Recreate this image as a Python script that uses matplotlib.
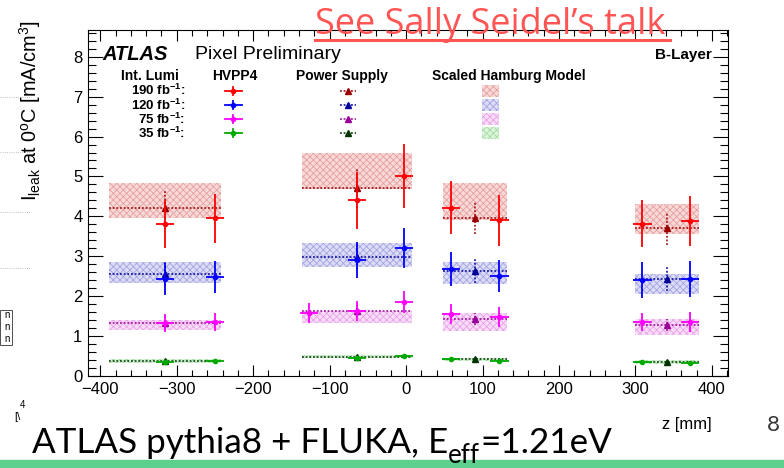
import numpy as np
import matplotlib
matplotlib.use("Agg")
import matplotlib.pyplot as plt
from matplotlib.patches import Rectangle
from matplotlib.lines import Line2D

plt.rcParams['font.family'] = ['Liberation Sans', 'DejaVu Sans']
plt.rcParams['mathtext.fontset'] = 'custom'
plt.rcParams['mathtext.rm'] = 'Liberation Sans'
plt.rcParams['mathtext.it'] = 'Liberation Sans:italic'
plt.rcParams['mathtext.bf'] = 'Liberation Sans:bold'
plt.rcParams['hatch.linewidth'] = 0.6

nan = np.nan

# HVPP4 measurements (z in mm, I_leak in mA/cm3)
hv_z = [-315, -250, -127, -64, -3, 59, 122, 309, 371]
hv_190 = [3.80, 3.95, nan, 4.40, 5.02, 4.22, 3.90, 3.82, 3.88]
hv_190_err = [0.60, 0.62, nan, 0.72, 0.80, 0.67, 0.63, 0.60, 0.63]
hv_120 = [2.43, 2.48, nan, 2.90, 3.20, 2.68, 2.50, 2.40, 2.43]
hv_120_err = [0.40, 0.40, nan, 0.45, 0.50, 0.43, 0.40, 0.45, 0.45]
hv_75 = [1.33, 1.35, 1.58, 1.62, 1.85, 1.55, 1.48, 1.35, 1.35]
hv_75_err = [0.22, 0.22, 0.25, 0.25, 0.28, 0.25, 0.25, 0.23, 0.25]
hv_35 = [0.35, 0.37, nan, 0.45, 0.50, 0.43, 0.38, 0.36, 0.32]
hv_35_err = [0.03, 0.03, nan, 0.03, 0.03, 0.03, 0.03, 0.03, 0.03]
hv_zerr = 12

# Power supply measurements, one per group of modules
ps_z = [-315, -64, 90, 341]
ps_zerr = [73, 72, 42, 42]
ps_190 = [4.20, 4.70, 3.97, 3.70]
ps_190_err = [0.45, 0.50, 0.40, 0.42]
ps_120 = [2.56, 2.98, 2.64, 2.42]
ps_120_err = [0.30, 0.30, 0.30, 0.30]
ps_75 = [1.33, 1.62, 1.42, 1.27]
ps_75_err = [0.15, 0.15, 0.15, 0.15]
ps_35 = [0.37, 0.48, 0.42, 0.35]
ps_35_err = [0.03, 0.03, 0.03, 0.03]

# Scaled Hamburg model bands (low / high)
ham_190_lo = [3.96, 4.68, 3.92, 3.55]
ham_190_hi = [4.83, 5.60, 4.83, 4.32]
ham_120_lo = [2.32, 2.73, 2.30, 2.05]
ham_120_hi = [2.85, 3.33, 2.85, 2.55]
ham_75_lo = [1.15, 1.33, 1.13, 1.02]
ham_75_hi = [1.40, 1.63, 1.58, 1.42]
ham_35_lo = [0.33, 0.44, 0.38, 0.31]
ham_35_hi = [0.42, 0.53, 0.46, 0.39]

lumi_labels = [r'190 fb$^{\mathbf{-1}}$:', r'120 fb$^{\mathbf{-1}}$:',
               r'75 fb$^{\mathbf{-1}}$:', r'35 fb$^{\mathbf{-1}}$:']

series = [
    (hv_190, hv_190_err, ps_190, ps_190_err, ham_190_lo, ham_190_hi,
     '#ff0000', '#990000', '#f9d8d8', '#e6a0a0'),
    (hv_120, hv_120_err, ps_120, ps_120_err, ham_120_lo, ham_120_hi,
     '#0000ff', '#000099', '#dcdcf6', '#a4a4e4'),
    (hv_75, hv_75_err, ps_75, ps_75_err, ham_75_lo, ham_75_hi,
     '#ff00ff', '#990099', '#fadcfa', '#e4a4e4'),
    (hv_35, hv_35_err, ps_35, ps_35_err, ham_35_lo, ham_35_hi,
     '#00aa00', '#003300', '#dcf4dc', '#a4dca4'),
]

fig = plt.figure(figsize=(7.84, 4.68), dpi=100)
ax = fig.add_axes([88 / 784, 92 / 468, 640 / 784, 346 / 468])

for hv, hv_err, ps, ps_err, lo, hi, col, pcol, fcol, hcol in series:
    # model bands
    for z, dz, l, h in zip(ps_z, ps_zerr, lo, hi):
        ax.add_patch(Rectangle((z - dz, l), 2 * dz, h - l, facecolor=fcol,
                               edgecolor=hcol, hatch='xxxxx', lw=0, zorder=1))
    # power supply
    eb = ax.errorbar(ps_z, ps, yerr=ps_err, xerr=ps_zerr, fmt='^', color=pcol,
                     ms=4.5, elinewidth=1.1, capsize=0, zorder=3)
    for lc in eb[2]:
        lc.set_linestyle((0, (1.2, 1.2)))
    # HVPP4
    ax.errorbar(hv_z, hv, yerr=hv_err, xerr=hv_zerr, fmt='o', color=col,
                ms=3, elinewidth=1.3, capsize=0, zorder=4)

ax.set_xlim(-416, 421)
ax.set_ylim(0, 8.67)
ax.set_xticks(np.arange(-400, 401, 100))
ax.set_xticks(np.arange(-400, 421, 20), minor=True)
ax.set_yticks(np.arange(0, 9, 1))
ax.set_yticks(np.arange(0, 8.67, 0.2), minor=True)
ax.set_xticklabels(['\u2212400', '\u2212300', '\u2212200', '\u2212100', '0',
                    '100', '200', '300', '400'])
ax.tick_params(which='both', direction='in', top=True, right=True,
               labelsize=12, width=0.8)
ax.tick_params(axis='x', which='major', length=8, pad=4)
ax.tick_params(axis='x', which='minor', length=4)
ax.tick_params(axis='y', which='major', length=11, pad=4)
ax.tick_params(axis='y', which='minor', length=5.5)
for s in ax.spines.values():
    s.set_linewidth(0.8)

fig.text(30 / 784, 1 - 20 / 468,
         r'I$_{\rm leak}$ at 0$^{\rm o}$C [mA/cm$^{3}$]',
         rotation=90, ha='center', va='top', fontsize=14.3)
fig.text(712 / 784, 1 - 425 / 468, 'z [mm]', ha='right', va='center',
         fontsize=12)

# plot header
ax.text(0.023, 0.928, 'ATLAS', transform=ax.transAxes, fontsize=14.5,
        weight='bold', style='italic', va='center')
ax.text(0.167, 0.928, 'Pixel Preliminary', transform=ax.transAxes,
        fontsize=14, va='center')
ax.text(0.975, 0.928, 'B-Layer', transform=ax.transAxes, fontsize=11,
        weight='bold', ha='right', va='center')

# legend table
hy = 0.867
for x, t in [(0.097, 'Int. Lumi'), (0.23, 'HVPP4'), (0.397, 'Power Supply'),
             (0.658, 'Scaled Hamburg Model')]:
    ax.text(x, hy, t, transform=ax.transAxes, fontsize=10, weight='bold',
            ha='center', va='center')
row_y = [0.824, 0.783, 0.743, 0.702]
for y, lab, s in zip(row_y, lumi_labels, series):
    col, pcol, fcol, hcol = s[6:]
    ax.text(0.152, y, lab, transform=ax.transAxes, fontsize=9.5,
            weight='bold', ha='right', va='center')
    ax.plot([0.214, 0.240], [y, y], color=col, lw=1.3,
            transform=ax.transAxes)
    ax.plot([0.227, 0.227], [y - 0.012, y + 0.012], color=col, lw=1.3,
            transform=ax.transAxes)
    ax.plot([0.227], [y], 'o', color=col, ms=3, transform=ax.transAxes)
    ax.plot([0.393, 0.419], [y, y], color=pcol, lw=1.1, ls=(0, (1.2, 1.2)),
            transform=ax.transAxes)
    ax.plot([0.406], [y], '^', color=pcol, ms=4.5, transform=ax.transAxes)
    ax.add_patch(Rectangle((0.616, y - 0.018), 0.026, 0.036,
                           transform=ax.transAxes, facecolor=fcol,
                           edgecolor=hcol, hatch='xxxxx', lw=0))

# slide decorations
fig.add_artist(Rectangle((0, 0), 1, 8 / 468, transform=fig.transFigure,
                         color='#5dd08e', zorder=0))
fig.text(773 / 784, 1 - 425 / 468, '8', ha='center', va='center',
         fontsize=16, color='#333333', family='Lato')

fig.canvas.draw()
r = fig.canvas.get_renderer()

# bottom caption, scaled to span 32 -> 612 px
size = 24
base = 1 - 453 / 468
t1 = fig.text(32 / 784, base, 'ATLAS pythia8 + FLUKA, E', fontsize=size,
              family='Lato', va='baseline')
t2 = fig.text(0, 1 - 463 / 468, 'eff', fontsize=size * 0.74, family='Lato',
              va='baseline')
t3 = fig.text(0, base, '=1.21eV', fontsize=size, family='Lato',
              va='baseline')
w = sum(t.get_window_extent(r).width for t in (t1, t2, t3))
k = 580 / w
for t in (t1, t2, t3):
    t.set_fontsize(t.get_fontsize() * k)
x = t1.get_window_extent(r).x1
t2.set_x(x / 784)
x = t2.get_window_extent(r).x1
t3.set_x(x / 784)

# link on top of the slide, scaled to span 315 -> 670 px
link = fig.text(315 / 784, 1 - 34 / 468, 'See Sally Seidel\u2019s talk',
                fontsize=22, family='Open Sans', color='#ff5555',
                va='baseline')
lw_px = link.get_window_extent(r).width
link.set_fontsize(22 * 350 / lw_px)
fig.add_artist(Line2D([315 / 784, 670 / 784], [1 - 40 / 468] * 2,
                      color='#ff5555', lw=2.2, transform=fig.transFigure))

# fragments of the neighbouring plot at the left edge
for yy in [97, 152, 212, 268]:
    fig.add_artist(Line2D([0, 30 / 784], [1 - yy / 468] * 2, color='#aaaaaa',
                          lw=0.6, ls=':', transform=fig.transFigure))
fig.add_artist(Rectangle((0, 1 - 345 / 468), 12 / 784, 35 / 468,
                         transform=fig.transFigure, fill=False,
                         edgecolor='#333333', lw=0.6))
for yy in [318, 330, 342]:
    fig.text(4 / 784, 1 - yy / 468, 'n', fontsize=7, va='baseline')
fig.text(20 / 784, 1 - 408 / 468, '4', fontsize=7, va='baseline')
fig.text(14 / 784, 1 - 420 / 468, '[\\', fontsize=8, va='baseline')

fig.savefig('out.png', dpi=100)
